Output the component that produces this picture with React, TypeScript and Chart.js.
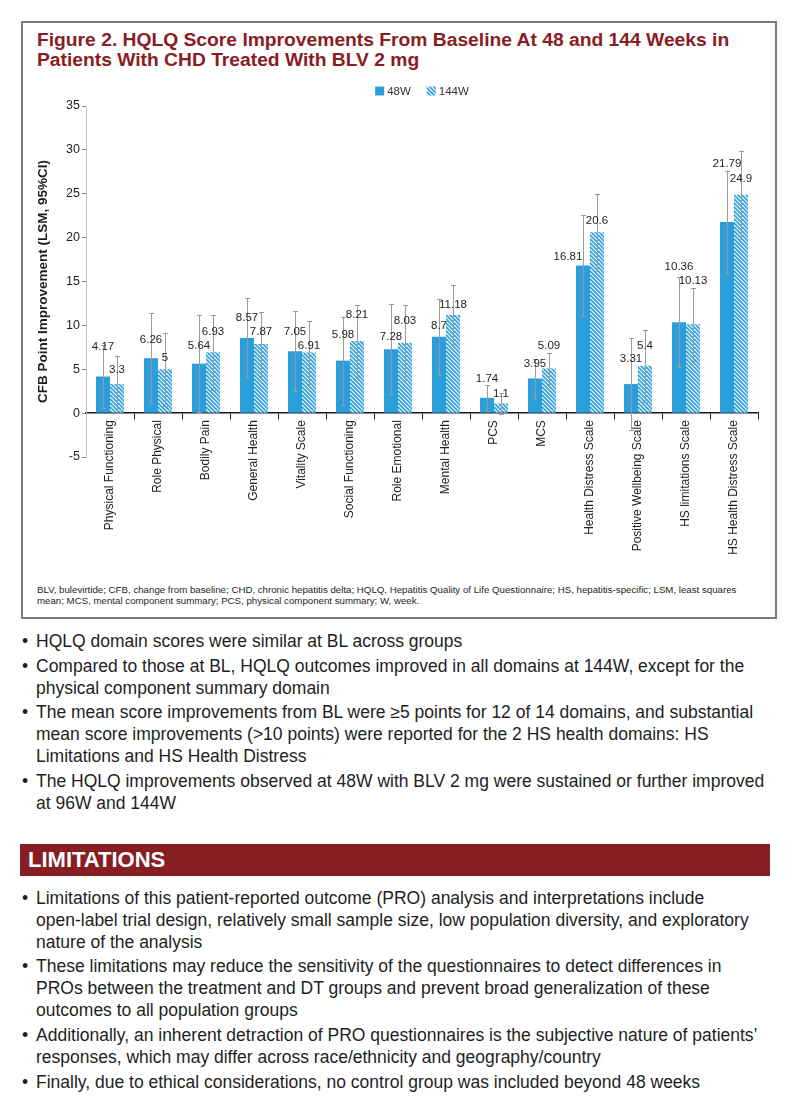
import React, { useEffect, useRef } from 'react';
import { Chart, registerables } from 'chart.js';

Chart.register(...registerables);

// ---------- DATA ----------
const categories = [
  'Physical Functioning',
  'Role Physical',
  'Bodily Pain',
  'General Health',
  'Vitality Scale',
  'Social Functioning',
  'Role Emotional',
  'Mental Health',
  'PCS',
  'MCS',
  'Health Distress Scale',
  'Positive Wellbeing Scale',
  'HS limitations Scale',
  'HS Health Distress Scale',
];
const seriesNames = ['48W', '144W'];
const values48 = [4.17, 6.26, 5.64, 8.57, 7.05, 5.98, 7.28, 8.7, 1.74, 3.95, 16.81, 3.31, 10.36, 21.79];
const values144 = [3.3, 5, 6.93, 7.87, 6.91, 8.21, 8.03, 11.18, 1.1, 5.09, 20.6, 5.4, 10.13, 24.9];
// half-width of the 95% CI
const ci48 = [3.6, 5.12, 5.5, 4.5, 4.55, 5.03, 5.15, 4.3, 1.47, 2.24, 5.72, 5.2, 5.1, 5.84];
const ci144 = [3.26, 4.17, 4.25, 3.62, 3.6, 4.06, 4.25, 3.45, 1.2, 1.8, 4.4, 4.1, 4.14, 5.0];
const yMin = -5;
const yMax = 35;
const yStep = 5;

// label nudges (pixels above the bar top), hand-placed in the original figure
const lift48 = [30, 18, 18, 20, 19, 26, 12, 11, 19, 15, 9, 25, 55, 58];
const lift144 = [14, 11, 20, 12, 7, 26, 22, 10, 10, 23, 12, 20, 43, 16];
const shift48 = [0, 0, 0, 0, 0, 0, 0, 0, 0, 0, -15, 0, 0, 0];

const titleLines = [
  'Figure 2. HQLQ Score Improvements From Baseline At 48 and 144 Weeks in',
  'Patients With CHD Treated With BLV 2 mg',
];
const yTitle = 'CFB Point Improvement (LSM, 95%CI)';
const footnoteLines = [
  'BLV, bulevirtide; CFB, change from baseline; CHD, chronic hepatitis delta; HQLQ, Hepatitis Quality of Life Questionnaire; HS, hepatitis-specific; LSM, least squares',
  'mean; MCS, mental component summary; PCS, physical component summary; W, week.',
];
const resultBullets = [
  ['HQLQ domain scores were similar at BL across groups'],
  [
    'Compared to those at BL, HQLQ outcomes improved in all domains at 144W, except for the',
    'physical component summary domain',
  ],
  [
    'The mean score improvements from BL were \u22655 points for 12 of 14 domains, and substantial',
    'mean score improvements (>10 points) were reported for the 2 HS health domains: HS',
    'Limitations and HS Health Distress',
  ],
  [
    'The HQLQ improvements observed at 48W with BLV 2 mg were sustained or further improved',
    'at 96W and 144W',
  ],
];
const limitationsTitle = 'LIMITATIONS';
const limitationBullets = [
  [
    'Limitations of this patient-reported outcome (PRO) analysis and interpretations include',
    'open-label trial design, relatively small sample size, low population diversity, and exploratory',
    'nature of the analysis',
  ],
  [
    'These limitations may reduce the sensitivity of the questionnaires to detect differences in',
    'PROs between the treatment and DT groups and prevent broad generalization of these',
    'outcomes to all population groups',
  ],
  [
    'Additionally, an inherent detraction of PRO questionnaires is the subjective nature of patients\u2019',
    'responses, which may differ across race/ethnicity and geography/country',
  ],
  ['Finally, due to ethical considerations, no control group was included beyond 48 weeks'],
];

// ---------- STYLE ----------
const FONT = '"Liberation Sans", Arial, Helvetica, sans-serif';
const BLUE = '#2a9fdb';
const DARK_RED = '#8a1c24';
const TEXT = '#1e1e1e';

function makeHatch(): CanvasPattern | string {
  const c = document.createElement('canvas');
  c.width = 4;
  c.height = 4;
  const g = c.getContext('2d');
  if (!g) return BLUE;
  g.fillStyle = BLUE;
  g.fillRect(0, 0, 4, 4);
  g.strokeStyle = '#ffffff';
  g.lineWidth = 1.2;
  g.beginPath();
  g.moveTo(-1, -1);
  g.lineTo(5, 5);
  g.moveTo(3, -1);
  g.lineTo(5, 1);
  g.moveTo(-1, 3);
  g.lineTo(1, 5);
  g.stroke();
  const p = g.createPattern(c, 'repeat');
  return p || BLUE;
}

const ChartPanel: React.FC = () => {
  const ref = useRef<HTMLCanvasElement | null>(null);
  useEffect(() => {
    if (!ref.current) return;
    const hatch = makeHatch();
    const cis = [ci48, ci144];
    const lifts = [lift48, lift144];
    const shifts = [shift48, values144.map(() => 0)];

    const overlay = {
      id: 'overlay',
      afterDatasetsDraw(chart: any) {
        const ctx = chart.ctx as CanvasRenderingContext2D;
        const y = chart.scales.y;
        ctx.save();
        // error bars
        chart.data.datasets.forEach((ds: any, di: number) => {
          const meta = chart.getDatasetMeta(di);
          meta.data.forEach((bar: any, i: number) => {
            const v = ds.data[i];
            const lo = y.getPixelForValue(v - cis[di][i]);
            const hi = y.getPixelForValue(v + cis[di][i]);
            const x = Math.round(bar.x) + 0.5;
            ctx.strokeStyle = '#9b9b9b';
            ctx.lineWidth = 1;
            ctx.beginPath();
            ctx.moveTo(x, lo);
            ctx.lineTo(x, hi);
            ctx.moveTo(x - 2.5, Math.round(hi) + 0.5);
            ctx.lineTo(x + 2.5, Math.round(hi) + 0.5);
            ctx.moveTo(x - 2.5, Math.round(lo) + 0.5);
            ctx.lineTo(x + 2.5, Math.round(lo) + 0.5);
            ctx.stroke();
          });
        });
        // value labels
        ctx.font = `11.5px ${FONT}`;
        ctx.fillStyle = TEXT;
        ctx.textAlign = 'center';
        ctx.textBaseline = 'middle';
        chart.data.datasets.forEach((ds: any, di: number) => {
          const meta = chart.getDatasetMeta(di);
          meta.data.forEach((bar: any, i: number) => {
            ctx.fillText(String(ds.data[i]), bar.x + shifts[di][i], bar.y - lifts[di][i]);
          });
        });
        // legend
        const area = chart.chartArea;
        ctx.font = `11.5px ${FONT}`;
        ctx.textAlign = 'left';
        const box = 9;
        const gap = 3;
        const spacing = 16;
        const w0 = ctx.measureText(seriesNames[0]).width;
        const w1 = ctx.measureText(seriesNames[1]).width;
        const total = box + gap + w0 + spacing + box + gap + w1;
        let lx = (area.left + area.right) / 2 - total / 2;
        const ly = area.top - 15;
        ctx.fillStyle = BLUE;
        ctx.fillRect(lx, ly - box / 2, box, box);
        ctx.fillStyle = '#333';
        ctx.fillText(seriesNames[0], lx + box + gap, ly + 0.5);
        lx += box + gap + w0 + spacing;
        ctx.fillStyle = hatch as any;
        ctx.fillRect(lx, ly - box / 2, box, box);
        ctx.fillStyle = '#333';
        ctx.fillText(seriesNames[1], lx + box + gap, ly + 0.5);
        ctx.restore();
      },
    };

    const chart = new Chart(ref.current, {
      type: 'bar',
      data: {
        labels: categories,
        datasets: [
          {
            label: seriesNames[0],
            data: values48,
            backgroundColor: BLUE,
            borderWidth: 0,
            categoryPercentage: 0.585,
            barPercentage: 1,
          },
          {
            label: seriesNames[1],
            data: values144,
            backgroundColor: hatch as any,
            borderWidth: 0,
            categoryPercentage: 0.585,
            barPercentage: 1,
          },
        ],
      },
      options: {
        animation: false,
        responsive: false,
        devicePixelRatio: 1,
        layout: { padding: { left: 8, right: 17, top: 36, bottom: 113 } },
        plugins: {
          legend: { display: false },
          tooltip: { enabled: false },
        },
        scales: {
          x: {
            position: { y: 0 } as any,
            grid: {
              drawOnChartArea: false,
              drawTicks: true,
              tickLength: 6,
              color: '#1a1a1a',
              offset: true,
            },
            border: { display: true, color: '#1a1a1a', width: 1.5 },
            ticks: {
              autoSkip: false,
              minRotation: 90,
              maxRotation: 90,
              padding: 1,
              color: TEXT,
              font: { family: FONT, size: 12 },
            },
          },
          y: {
            min: yMin,
            max: yMax,
            afterFit: (scale: any) => {
              scale.width = 55;
            },
            ticks: {
              stepSize: yStep,
              padding: 2,
              color: TEXT,
              font: { family: FONT, size: 12.5 },
            },
            grid: {
              drawOnChartArea: false,
              drawTicks: true,
              tickLength: 4,
              color: '#8c8c8c',
            },
            border: { display: true, color: '#c4c4c4', width: 1 },
            title: {
              display: true,
              text: yTitle,
              color: TEXT,
              padding: { top: 4, bottom: 0 },
              font: { family: FONT, size: 13.5, weight: 'bold' },
            },
          },
        },
      },
      plugins: [overlay],
    });
    return () => chart.destroy();
  }, []);
  return (
    <canvas
      ref={ref}
      width={752}
      height={500}
      style={{ position: 'absolute', left: 23, top: 70, width: 752, height: 500 }}
    />
  );
};

const Bullets: React.FC<{ items: string[][]; top: number }> = ({ items, top }) => (
  <div style={{ position: 'absolute', left: 0, top, width: 811 }}>
    {items.map((lines, i) => (
      <div
        key={i}
        style={{
          position: 'relative',
          paddingLeft: 36,
          marginBottom: 2.7,
          fontSize: 17.5,
          lineHeight: '22px',
          color: TEXT,
          whiteSpace: 'nowrap',
        }}
      >
        <span style={{ position: 'absolute', left: 22, top: 0 }}>{'\u2022'}</span>
        {lines.map((l, j) => (
          <div key={j}>{l}</div>
        ))}
      </div>
    ))}
  </div>
);

export default function App() {
  return (
    <div
      style={{
        position: 'absolute',
        left: 0,
        top: 0,
        width: 811,
        height: 1117,
        background: '#ffffff',
        fontFamily: FONT,
        overflow: 'hidden',
      }}
    >
      <div
        style={{
          position: 'absolute',
          left: 21,
          top: 21,
          width: 756,
          height: 598,
          boxSizing: 'border-box',
          border: '2px solid #7a7a7a',
        }}
      />
      <div
        style={{
          position: 'absolute',
          left: 37,
          top: 29.7,
          fontSize: 19.25,
          lineHeight: '20.6px',
          fontWeight: 'bold',
          color: DARK_RED,
          whiteSpace: 'nowrap',
        }}
      >
        {titleLines.map((l, i) => (
          <div key={i}>{l}</div>
        ))}
      </div>
      <ChartPanel />
      <div
        style={{
          position: 'absolute',
          left: 37,
          top: 583.6,
          fontSize: 9.7,
          lineHeight: '11.6px',
          color: TEXT,
          whiteSpace: 'nowrap',
        }}
      >
        {footnoteLines.map((l, i) => (
          <div key={i}>{l}</div>
        ))}
      </div>
      <Bullets items={resultBullets} top={630} />
      <div
        style={{
          position: 'absolute',
          left: 20,
          top: 844,
          width: 750,
          height: 32,
          background: '#871e23',
        }}
      >
        <div
          style={{
            position: 'absolute',
            left: 8,
            top: 3,
            fontSize: 22,
            lineHeight: '26px',
            fontWeight: 'bold',
            color: '#ffffff',
          }}
        >
          {limitationsTitle}
        </div>
      </div>
      <Bullets items={limitationBullets} top={886.5} />
    </div>
  );
}
